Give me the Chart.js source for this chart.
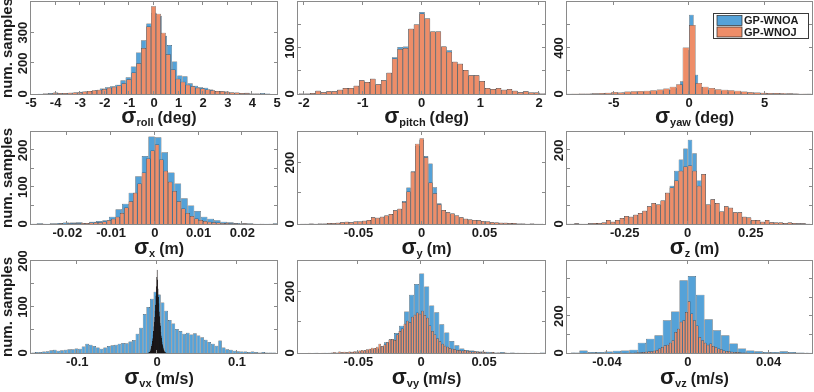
<!DOCTYPE html>
<html><head><meta charset="utf-8">
<script src="https://cdn.jsdelivr.net/npm/chart.js@4"></script>
<style>
html,body{margin:0;padding:0;background:#fff;overflow:hidden;width:814px;height:392px;position:relative;}
canvas{position:absolute;}
</style></head><body>
<script>
// ===================== DATA =====================
const seriesNames = ['GP-WNOA', 'GP-WNOJ'];

// --- sigma roll (deg) ---
const rollXTicks = [-5,-4,-3,-2,-1,0,1,2,3,4,5];
const rollYTicks = [0,100,200,300];
const rollYLabels = ['0','200','300',''];
const rollBlueStart = -4.62, rollBlueWidth = 0.21;
const rollBlue = [1,2,3,5,3,3,4,5,7,8,10,12,18,22,25,30,45,55,90,135,175,230,
                  265,255,190,160,106,60,58,35,27,22,20,15,10,9,8,5,4,3,4,2,2,3,2];
const rollOrangeStart = -4.42, rollOrangeWidth = 0.2;
const rollOrange = [2,2,4,3,3,4,5,6,8,10,12,14,16,20,24,28,35,48,70,100,150,220,
                    286,262,200,130,80,50,40,30,25,20,18,15,12,10,9,7,5,5,3,3,2,2,1];

// --- sigma pitch (deg) ---
const pitchXTicks = [-2,-1,0,1,2];
const pitchYTicks = [0,50,100,150,200];
const pitchYLabels = ['0','','100','',''];
const pitchBlueStart = -2.038, pitchBlueWidth = 0.093;
const pitchBlue = [1,1,2,7,4,6,6,9,13,13,18,30,26,33,21,30,46,80,102,103,142,151,
                   178,164,136,136,103,95,70,66,52,41,41,28,13,11,13,9,11,7,4,6,3,3,1];
const pitchOrangeStart = -2.038, pitchOrangeWidth = 0.093;
const pitchOrange = [1,1,2,7,4,6,6,9,13,13,18,30,26,33,21,30,46,77,98,100,142,151,
                     175,164,136,136,103,92,70,66,52,41,41,28,13,11,13,9,11,7,4,6,3,3,1];

// --- sigma yaw (deg) ---
const yawXTicks = [-5,0,5];
const yawYTicks = [0,200,400,600,800];
const yawYLabels = ['0','','400','',''];
const yawBlueStart = -7.95, yawBlueWidth = 0.3;
const yawBlue = [1,2,2,3,3,4,5,5,6,7,9,10,13,12,15,17,18,20,22,24,27,30,35,42,55,110,380,
                 690,168,60,42,36,32,28,25,22,20,18,17,15,13,11,10,8,7,7,6,6,5,4,4,3,2,2];
const yawOrangeStart = -7.955, yawOrangeWidth = 0.43;
const yawOrange = [2,3,4,5,6,8,10,18,14,22,25,26,28,32,40,48,62,85,405,
                   600,95,62,52,42,36,32,28,22,16,13,10,8,9,7,6,4,3,2];

// --- sigma x (m) ---
const xXTicks = [-0.02,-0.01,0,0.01,0.02];
const xYTicks = [0,50,100,150,200,250];
const xYLabels = ['0','','100','','200',''];
const xBlueStart = -0.02775, xBlueWidth = 0.0015;
const xBlue = [1,2,1,2,3,4,4,5,3,6,8,10,20,40,55,85,130,185,238,
               236,195,140,110,70,50,35,20,14,10,6,5,3,2,2,1,1,1,2];
const xOrangeStart = -0.0275, xOrangeWidth = 0.001;
const xOrange = [1,0,1,0,1,1,2,1,2,2,2,3,3,4,5,5,7,10,14,20,30,45,62,85,110,140,178,200,
                 216,175,145,115,90,62,42,30,22,15,11,8,6,5,4,3,3,2,2,1,2,1,1,0,1,0,1,0];

// --- sigma y (m) ---
const yXTicks = [-0.05,0,0.05];
const yYTicks = [0,100,200,300];
const yYLabels = ['0','','200',''];
const yBlueStart = -0.09435, yBlueWidth = 0.0035;
const yBlue = [1,1,2,1,2,2,3,3,4,6,7,6,8,8,11,13,22,20,24,28,33,45,50,75,119,172,255,
               275,222,197,120,68,46,38,34,28,22,17,15,13,12,10,8,6,5,4,4,3,3,2,2,1,2,1,1];
const yOrangeStart = -0.09435, yOrangeWidth = 0.0035;
const yOrange = [1,1,2,1,2,2,3,3,4,6,7,6,8,8,11,13,22,20,24,28,33,45,50,72,106,170,262,
                 280,218,135,100,64,46,38,34,28,22,17,15,13,12,10,8,6,5,4,4,3,3,2,2,1,2,1,1];

// --- sigma z (m) ---
const zXTicks = [-0.25,0,0.25];
const zYTicks = [0,50,100,150,200,250];
const zYLabels = ['0','','','','200',''];
const zBlueStart = -0.477, zBlueWidth = 0.018;
const zBlue = [1,1,2,1,1,2,3,3,4,11,6,11,16,22,20,25,30,36,48,57,53,64,85,104,145,175,205,
               229,192,118,136,53,67,57,34,48,44,32,32,20,18,11,11,6,11,5,4,4,3,4,3,2,2,1];
const zOrangeStart = -0.477, zOrangeWidth = 0.018;
const zOrange = [1,1,2,1,1,2,3,3,4,11,6,11,16,22,20,25,30,36,48,57,53,64,85,99,118,145,156,
                 159,145,104,136,53,67,57,34,48,44,32,32,20,18,11,11,6,11,5,4,4,3,4,3,2,2,1];

// --- sigma vx (m/s) ---
const vxXTicks = [-0.1,0,0.1];
const vxYTicks = [0,50,100,150,200];
const vxYLabels = ['0','','100','','200'];
const vxBlueStart = -0.15525, vxBlueWidth = 0.0045;
const vxBlue = [1,2,2,3,4,6,7,5,6,7,8,8,10,9,14,20,18,15,12,9,12,15,17,18,20,22,21,25,28,42,55,85,100,118,133,
                127,110,92,72,64,52,48,42,44,40,43,38,34,29,24,20,16,27,12,8,7,5,4,3,3,2,3,2,1,2,1,1,1];
const vxOrangeStart = -0.011, vxOrangeWidth = 0.0005;
const vxOrange = [1,1,2,2,3,5,8,11,15,20,26,32,40,48,58,68,78,92,105,125,145,165,
                  181,160,140,122,108,90,80,66,60,46,38,33,25,19,16,12,8,6,4,2,2,1,1];

// --- sigma vy (m/s) ---
const vyXTicks = [-0.05,0,0.05];
const vyYTicks = [0,100,200,300];
const vyYLabels = ['0','','200',''];
const vyBlueStart = -0.0956, vyBlueWidth = 0.004;
const vyBlue = [0,0,0,1,0,1,1,1,2,2,3,4,6,9,12,15,22,35,45,65,89,135,190,225,
                259,217,155,133,94,67,39,25,15,10,8,6,5,4,3,2,3,1,2,1,1,0,1,0,2];
const vyOrangeStart = -0.097, vyOrangeWidth = 0.002;
const vyOrange = [0,0,0,0,1,0,0,1,0,1,1,0,1,2,3,2,5,3,4,3,5,4,6,5,8,10,9,12,14,17,16,20,30,22,28,35,44,46,42,60,72,80,95,105,100,118,125,132,128,
                  138,124,115,90,72,60,48,38,30,24,20,16,14,12,10,9,8,10,7,6,5,6,4,3,4,3,2,2,3,1,2,1,1,2,1,0,1,0,1,0,0,1,0,0,0,1,0,0,0];

// --- sigma vz (m/s) ---
const vzXTicks = [-0.04,0,0.04];
const vzYTicks = [0,100,200,300,400,500];
const vzYLabels = ['0','','200','','',''];
const vzBlueStart = -0.05576, vzBlueWidth = 0.00413;
const vzBlue = [3,13,5,6,8,12,13,18,56,78,96,178,226,395,
                418,317,183,123,96,51,24,14,9,6,5,9,5,3,2];
const vzOrangeStart = -0.059185, vzOrangeWidth = 0.00133;
const vzOrange = [0,0,1,0,0,0,1,0,0,1,0,0,1,0,1,
                  0,1,0,1,1,2,1,2,3,2,3,4,4,5,7,9,10,12,16,24,33,42,45,56,69,114,132,170,178,223,
                  281,
                  214,178,150,87,69,56,45,51,38,33,24,20,14,11,9,7,6,5,4,3,3,2,2,1,1,1,0,1,0,1,
                  0,1,0,0,1,0,0,0,1,0,0,0,0,1,0];

// ===================== STYLE / LAYOUT =====================
const FONT = '"Liberation Sans", Arial, Helvetica, sans-serif';
const TXT = '#1c1c1c', AXIS = '#8a8a8a', EDGE = '#2a2a2a';
const BLUE = '#55a2d8', ORANGE = '#ee8d68';
const COL_LEFT = [31, 298, 567], COL_W = [246, 247, 245];
const ROW_TOP = [2, 132, 261], ROW_H = 92, TITLE_OFF = [29, 29.5, 31];
const PAD_L = 30, PAD_T = 10, PAD_R = 12, PAD_B = 38;

const panels = [
  {col:0,row:0,xMin:-5,xMax:5,xT:rollXTicks,yMax:300,yT:rollYTicks,yL:rollYLabels,title:['σ','roll','(deg)'],
   b:[rollBlueStart,rollBlueWidth,rollBlue],o:[rollOrangeStart,rollOrangeWidth,rollOrange],ytitle:true},
  {col:1,row:0,xMin:-2.1,xMax:2.1,xT:pitchXTicks,yMax:200,yT:pitchYTicks,yL:pitchYLabels,title:['σ','pitch','(deg)'],
   b:[pitchBlueStart,pitchBlueWidth,pitchBlue],o:[pitchOrangeStart,pitchOrangeWidth,pitchOrange]},
  {col:2,row:0,xMin:-8.1,xMax:8.15,xT:yawXTicks,yMax:800,yT:yawYTicks,yL:yawYLabels,title:['σ','yaw','(deg)'],
   b:[yawBlueStart,yawBlueWidth,yawBlue],o:[yawOrangeStart,yawOrangeWidth,yawOrange],legend:true},
  {col:0,row:1,xMin:-0.0283,xMax:0.0279,xT:xXTicks,yMax:250,yT:xYTicks,yL:xYLabels,title:['σ','x','(m)'],
   b:[xBlueStart,xBlueWidth,xBlue],o:[xOrangeStart,xOrangeWidth,xOrange],ytitle:true},
  {col:1,row:1,xMin:-0.098,xMax:0.098,xT:yXTicks,yMax:300,yT:yYTicks,yL:yYLabels,title:['σ','y','(m)'],
   b:[yBlueStart,yBlueWidth,yBlue],o:[yOrangeStart,yOrangeWidth,yOrange]},
  {col:2,row:1,xMin:-0.479,xMax:0.493,xT:zXTicks,yMax:250,yT:zYTicks,yL:zYLabels,title:['σ','z','(m)'],
   b:[zBlueStart,zBlueWidth,zBlue],o:[zOrangeStart,zOrangeWidth,zOrange]},
  {col:0,row:2,xMin:-0.158,xMax:0.15,xT:vxXTicks,yMax:200,yT:vxYTicks,yL:vxYLabels,title:['σ','vx','(m/s)'],
   b:[vxBlueStart,vxBlueWidth,vxBlue],o:[vxOrangeStart,vxOrangeWidth,vxOrange],ytitle:true,
   oStyle:{barPercentage:2.6, borderColor:'#141010', backgroundColor:'#5a2a1c'}},
  {col:1,row:2,xMin:-0.098,xMax:0.0985,xT:vyXTicks,yMax:300,yT:vyYTicks,yL:vyYLabels,title:['σ','vy','(m/s)'],
   b:[vyBlueStart,vyBlueWidth,vyBlue],o:[vyOrangeStart,vyOrangeWidth,vyOrange]},
  {col:2,row:2,xMin:-0.0598,xMax:0.0615,xT:vzXTicks,yMax:500,yT:vzYTicks,yL:vzYLabels,title:['σ','vz','(m/s)'],
   b:[vzBlueStart,vzBlueWidth,vzBlue],o:[vzOrangeStart,vzOrangeWidth,vzOrange]}
];

function bins(start, width, counts) {
  return counts.map((c, i) => ({ x: +(start + i * width).toFixed(7), y: c }));
}

const decor = {
  id: 'decor',
  afterDraw(chart) {
    const p = chart.options.plugins.decor.panel;
    const ctx = chart.ctx, ca = chart.chartArea;
    const xs = chart.scales.xb, ys = chart.scales.y;
    ctx.save();
    ctx.strokeStyle = AXIS; ctx.lineWidth = 1;
    ctx.strokeRect(ca.left - 0.5, ca.top - 0.5, ca.right - ca.left + 1, ca.bottom - ca.top + 1);
    ctx.beginPath();
    xs.ticks.forEach(t => {
      const px = Math.round(xs.getPixelForValue(t.value)) - 0.5;
      if (px <= ca.left + 1 || px >= ca.right - 1) return;
      ctx.moveTo(px, ca.bottom); ctx.lineTo(px, ca.bottom - 3);
      ctx.moveTo(px, ca.top); ctx.lineTo(px, ca.top + 3);
    });
    ys.ticks.forEach(t => {
      const py = Math.round(ys.getPixelForValue(t.value)) - 0.5;
      if (py <= ca.top + 1 || py >= ca.bottom - 1) return;
      ctx.moveTo(ca.left, py); ctx.lineTo(ca.left + 3, py);
      ctx.moveTo(ca.right, py); ctx.lineTo(ca.right - 3, py);
    });
    ctx.stroke();
    ctx.fillStyle = TXT;
    ctx.font = 'bold 13px ' + FONT;
    ctx.textAlign = 'center'; ctx.textBaseline = 'middle';
    ys.ticks.forEach((t, i) => {
      const lab = p.yL[i];
      if (!lab) return;
      ctx.save();
      ctx.translate(ca.left - 7.5, ys.getPixelForValue(t.value));
      ctx.rotate(-Math.PI / 2);
      ctx.fillText(lab, 0, 0);
      ctx.restore();
    });
    if (p.ytitle) {
      ctx.save();
      ctx.font = 'bold 15px ' + FONT;
      ctx.translate(7, (ca.top + ca.bottom) / 2);
      ctx.rotate(-Math.PI / 2);
      ctx.fillText('num. samples', 0, 0);
      ctx.restore();
    }
    const [sym, sub, unit] = p.title;
    const fS = 'bold 22px ' + FONT, fB = 'bold 11px ' + FONT, fU = 'bold 16px ' + FONT;
    ctx.font = fS; const wS = ctx.measureText(sym).width;
    ctx.font = fB; const wB = ctx.measureText(sub).width;
    ctx.font = fU; const wU = ctx.measureText(unit).width;
    const gap = 4;
    let x = (ca.left + ca.right) / 2 + 5 - (wS + wB + gap + wU) / 2;
    const base = ca.bottom + TITLE_OFF[p.row];
    ctx.textAlign = 'left'; ctx.textBaseline = 'alphabetic';
    ctx.font = fS; ctx.fillText(sym, x, base); x += wS;
    ctx.font = fB; ctx.fillText(sub, x, base + 3); x += wB + gap;
    ctx.font = fU; ctx.fillText(unit, x, base);
    if (p.legend) {
      const bw = 96, bh = 26, bx = ca.right - 3 - bw, by = ca.top + 11;
      ctx.fillStyle = '#fff'; ctx.fillRect(bx, by, bw, bh);
      ctx.strokeStyle = '#3a3a3a'; ctx.lineWidth = 1;
      ctx.strokeRect(bx + 0.5, by + 0.5, bw - 1, bh - 1);
      const cols = [BLUE, ORANGE];
      ctx.font = 'bold 11px ' + FONT; ctx.textBaseline = 'middle';
      seriesNames.forEach((nm, i) => {
        const sy = by + 2.5 + i * 11.5;
        ctx.fillStyle = cols[i]; ctx.fillRect(bx + 4, sy, 25, 10);
        ctx.strokeStyle = EDGE; ctx.lineWidth = 0.7; ctx.strokeRect(bx + 4, sy, 25, 10);
        ctx.fillStyle = TXT; ctx.fillText(nm, bx + 31, sy + 5.5);
      });
    }
    ctx.restore();
  }
};

panels.forEach(p => {
  const L = COL_LEFT[p.col], T = ROW_TOP[p.row], W = COL_W[p.col], H = ROW_H;
  const cv = document.createElement('canvas');
  const cw = W + PAD_L + PAD_R, ch = H + PAD_T + PAD_B;
  cv.width = cw; cv.height = ch;
  cv.style.left = (L - PAD_L) + 'px'; cv.style.top = (T - PAD_T) + 'px';
  cv.style.width = cw + 'px'; cv.style.height = ch + 'px';
  document.body.appendChild(cv);
  const barOpts = { borderColor: EDGE, borderWidth: 0.5, barPercentage: 1, categoryPercentage: 1,
                    grouped: false, inflateAmount: 0 };
  new Chart(cv, {
    type: 'bar',
    data: { datasets: [
      Object.assign({ label: seriesNames[0], data: bins(...p.b), xAxisID: 'xb', yAxisID: 'y', backgroundColor: BLUE, order: 2 }, barOpts),
      Object.assign({ label: seriesNames[1], data: bins(...p.o), xAxisID: 'xo', yAxisID: 'y', backgroundColor: ORANGE, order: 1 }, barOpts, p.oStyle || {})
    ]},
    options: {
      responsive: false, animation: false, devicePixelRatio: 1,
      layout: { padding: { left: 0, top: PAD_T, right: PAD_R, bottom: 0 } },
      plugins: { legend: { display: false }, tooltip: { enabled: false }, decor: { panel: p } },
      scales: {
        xb: { type: 'linear', position: 'bottom', min: p.xMin, max: p.xMax, offset: false,
          afterBuildTicks: s => { s.ticks = p.xT.map(v => ({ value: v })); },
          afterFit: s => { s.height = PAD_B; s.paddingLeft = 0; s.paddingRight = 0; },
          grid: { display: false, drawTicks: false, offset: false }, border: { display: false },
          ticks: { autoSkip: false, maxRotation: 0, minRotation: 0, padding: 1.5, color: TXT,
                   font: { family: FONT, size: 13, weight: 'bold' }, callback: v => String(v) } },
        xo: { type: 'linear', position: 'bottom', display: false, min: p.xMin, max: p.xMax, offset: false,
          grid: { offset: false } },
        y: { type: 'linear', position: 'left', min: 0, max: p.yMax,
          afterBuildTicks: s => { s.ticks = p.yT.map(v => ({ value: v })); },
          afterFit: s => { s.width = PAD_L; s.paddingTop = 0; s.paddingBottom = 0; },
          grid: { display: false, drawTicks: false }, border: { display: false },
          ticks: { display: false } }
      }
    },
    plugins: [decor]
  });
});
</script>
</body></html>
